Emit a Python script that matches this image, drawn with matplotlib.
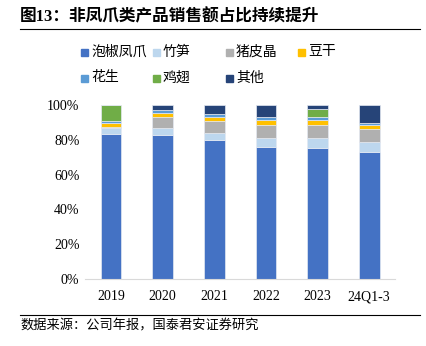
import matplotlib.pyplot as plt
from matplotlib.lines import Line2D
from matplotlib.patches import Rectangle
import numpy as np

plt.rcParams['font.family'] = ['Liberation Serif', 'Noto Sans CJK SC']

years = ["2019", "2020", "2021", "2022", "2023", "24Q1-3"]
names = ["泡椒凤爪", "竹笋", "猪皮晶", "豆干", "花生", "鸡翅", "其他"]
colors = ["#4472C4", "#BDD7EE", "#B0B0B0", "#FFC000", "#5B9BD5", "#70AD47", "#264478"]

paojiao = [83.5, 82.9, 79.9, 76.0, 75.5, 73.2]
zhusun = [3.5, 3.9, 3.8, 5.0, 5.5, 5.5]
zhupijing = [0.5, 6.5, 7.3, 7.7, 7.7, 7.5]
dougan = [2.0, 2.1, 2.3, 2.5, 2.7, 2.1]
huasheng = [1.5, 1.5, 1.5, 1.7, 1.5, 1.4]
jichi = [9.0, 0.0, 0.0, 0.0, 4.8, 0.0]
qita = [0.0, 3.1, 5.2, 7.1, 2.3, 10.3]
series = [paojiao, zhusun, zhupijing, dougan, huasheng, jichi, qita]

W, H = 426, 346
fig = plt.figure(figsize=(W / 100, H / 100), dpi=100)
ax = fig.add_axes([85 / W, 1 - 279 / H, 310 / W, 174 / H])

x = np.arange(len(years))
bottom = np.zeros(len(years))
for name, vals, c in zip(names, series, colors):
    v = np.array(vals) / 100
    ax.bar(x, v, 0.4, bottom=bottom, color=c, edgecolor="#E4E9F2", linewidth=0.5, label=name)
    bottom += v

ax.set_xlim(-0.5, len(years) - 0.5)
ax.set_ylim(0, 1)
ax.set_yticks(np.arange(0, 1.01, 0.2))
ax.set_yticklabels([f"{int(round(t * 100))}%" for t in np.arange(0, 1.01, 0.2)], fontsize=10)
ax.set_xticks(x)
ax.set_xticklabels(years, fontsize=10)
for s in ["top", "right", "left"]:
    ax.spines[s].set_visible(False)
ax.spines["bottom"].set_color("#D9D9D9")
ax.tick_params(length=0, pad=8)
ax.tick_params(axis="y", pad=4)

# legend laid out like the excel one: fixed column slots, two rows
slots = [(81, 52), (153, 52), (226, 52), (298, 52), (81, 78), (153, 78), (226, 78)]
for (sx, sy), n, c in zip(slots, names, colors):
    fig.add_artist(Rectangle((sx / W, 1 - (sy + 3.5) / H), 7 / W, 7 / H, color=c,
                             transform=fig.transFigure))
    fig.text((sx + 10) / W, 1 - sy / H, n, fontsize=10, va="center", ha="left")

fig.text(20 / W, 1 - 17 / H, "图13：非凤爪类产品销售额占比持续提升", fontsize=12,
         fontweight="bold", va="center", ha="left")
fig.add_artist(Line2D([20 / W, 420 / W], [1 - 29 / H] * 2, color="black", lw=0.8))
fig.add_artist(Line2D([20 / W, 420 / W], [1 - 315 / H] * 2, color="black", lw=0.8))
fig.text(20 / W, 1 - 326 / H, "数据来源：公司年报，国泰君安证券研究", fontsize=9.5,
         va="center", ha="left")

fig.savefig("out.png", dpi=100)
